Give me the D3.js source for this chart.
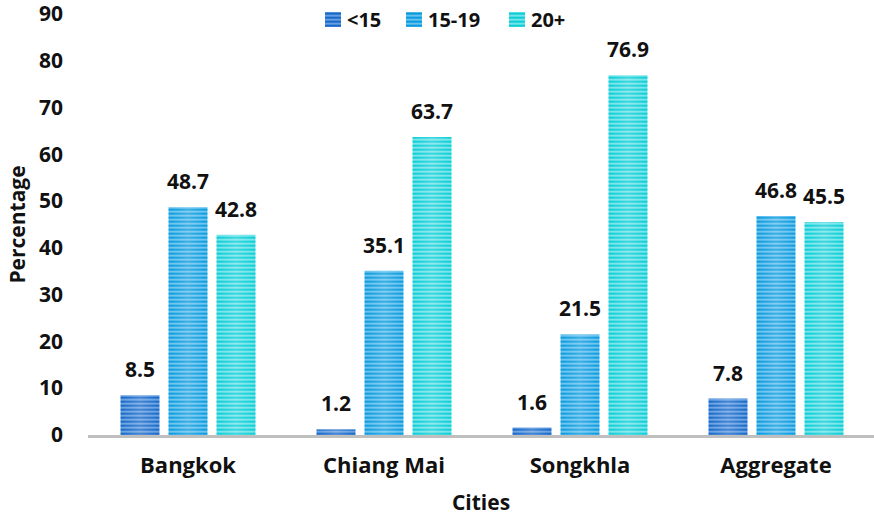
<!DOCTYPE html>
<html>
<head>
<meta charset="utf-8">
<script src="https://cdn.jsdelivr.net/npm/d3@7/dist/d3.min.js"></script>
<style>
  html, body { margin: 0; padding: 0; background: #fff; }
  svg text { font-family: "Open Sans", Lato, sans-serif; font-weight: bold; fill: #111; }
</style>
</head>
<body>
<svg id="chart" width="874" height="516"></svg>
<script>
// Age at first marriage by city (percent)
const cities = ["Bangkok", "Chiang Mai", "Songkhla", "Aggregate"];
const seriesNames = ["<15", "15-19", "20+"];
const under15 = [8.5, 1.2, 1.6, 7.8];
const age15to19 = [48.7, 35.1, 21.5, 46.8];
const age20plus = [42.8, 63.7, 76.9, 45.5];
const yTicks = [0, 10, 20, 30, 40, 50, 60, 70, 80, 90];

const seriesValues = [under15, age15to19, age20plus];
const seriesColors = [
  { dark: "#1868c8", light: "#7fb3ec" },
  { dark: "#0a9bdf", light: "#86cff3" },
  { dark: "#0bcdd6", light: "#98ecf0" }
];

const svg = d3.select("#chart");
const W = 874, H = 516;
const margin = { left: 90, right: 0, top: 14, bottom: 81 };
const FONT = "'Open Sans', Lato, sans-serif";

const x0 = d3.scaleBand().domain(cities).range([margin.left, W - margin.right]).paddingInner(0).paddingOuter(0);
const groupWidth = 135;
const x1 = d3.scaleBand().domain(seriesNames).range([0, groupWidth]).paddingInner(0.1875).paddingOuter(0);
const y = d3.scaleLinear().domain([0, 90]).range([H - margin.bottom, margin.top]);

const defs = svg.append("defs");
seriesColors.forEach((c, i) => {
  const p = defs.append("pattern")
    .attr("id", "stripes" + i)
    .attr("patternUnits", "userSpaceOnUse")
    .attr("width", 8).attr("height", 4)
    .attr("y", 0.5);
  p.append("rect").attr("width", 8).attr("height", 4).attr("fill", c.light);
  p.append("rect").attr("width", 8).attr("height", 2.5).attr("fill", c.dark);
});
const sheen = defs.append("linearGradient").attr("id", "sheen")
  .attr("x1", "0").attr("x2", "1").attr("y1", "0").attr("y2", "0");
sheen.append("stop").attr("offset", "0").attr("stop-color", "#fff").attr("stop-opacity", 0);
sheen.append("stop").attr("offset", "0.5").attr("stop-color", "#fff").attr("stop-opacity", 0.2);
sheen.append("stop").attr("offset", "1").attr("stop-color", "#fff").attr("stop-opacity", 0);

// Bars
const groupOffset = (x0.bandwidth() - groupWidth) / 2;
const groups = svg.append("g").selectAll("g")
  .data(cities)
  .join("g")
  .attr("transform", d => `translate(${x0(d) + groupOffset},0)`);

seriesNames.forEach((s, si) => {
  groups.each(function(city, ci) {
    const v = seriesValues[si][ci];
    const g = d3.select(this);
    const bx = x1(s), bw = x1.bandwidth();
    g.append("rect")
      .attr("x", bx).attr("y", y(v))
      .attr("width", bw).attr("height", y(0) - y(v))
      .attr("fill", `url(#stripes${si})`);
    g.append("rect")
      .attr("x", bx).attr("y", y(v))
      .attr("width", bw).attr("height", y(0) - y(v))
      .attr("fill", "url(#sheen)");
    g.append("text")
      .attr("x", bx + bw / 2).attr("y", y(v) - 18)
      .attr("text-anchor", "middle")
      .attr("font-size", 21)
      .text(v.toFixed(1));
  });
});

// Baseline
svg.append("line")
  .attr("x1", 88).attr("x2", W)
  .attr("y1", y(0) + 1.5).attr("y2", y(0) + 1.5)
  .attr("stroke", "#bfbfbf").attr("stroke-width", 3);

// Y axis labels
const yAxis = d3.axisLeft(y).tickValues(yTicks).tickSize(0).tickPadding(0).tickFormat(d3.format("d"));
const yg = svg.append("g").attr("transform", "translate(63,0)").call(yAxis);
yg.select(".domain").remove();
yg.selectAll("text").attr("font-size", 21).attr("fill", "#111")
  .style("font-family", FONT).style("font-weight", "bold");

// X axis labels
const xAxis = d3.axisBottom(x0).tickSize(0).tickPadding(0);
const xg = svg.append("g").attr("transform", `translate(0,${y(0) + 22})`).call(xAxis);
xg.select(".domain").remove();
xg.selectAll("text").attr("font-size", 22).attr("fill", "#111")
  .style("font-family", FONT).style("font-weight", "bold");

// Axis titles
svg.append("text")
  .attr("transform", `translate(25,${(y(0) + y(90)) / 2}) rotate(-90)`)
  .attr("text-anchor", "middle").attr("font-size", 21)
  .text("Percentage");
svg.append("text")
  .attr("x", 481).attr("y", 510)
  .attr("text-anchor", "middle").attr("font-size", 21)
  .text("Cities");

// Legend
const legendX = [325, 406, 509];
const legend = svg.append("g");
seriesNames.forEach((s, i) => {
  legend.append("rect")
    .attr("x", legendX[i]).attr("y", 12).attr("width", 16).attr("height", 15)
    .attr("fill", `url(#stripes${i})`);
  legend.append("text")
    .attr("x", legendX[i] + 22).attr("y", 27)
    .attr("font-size", 20)
    .text(s);
});
</script>
</body>
</html>
